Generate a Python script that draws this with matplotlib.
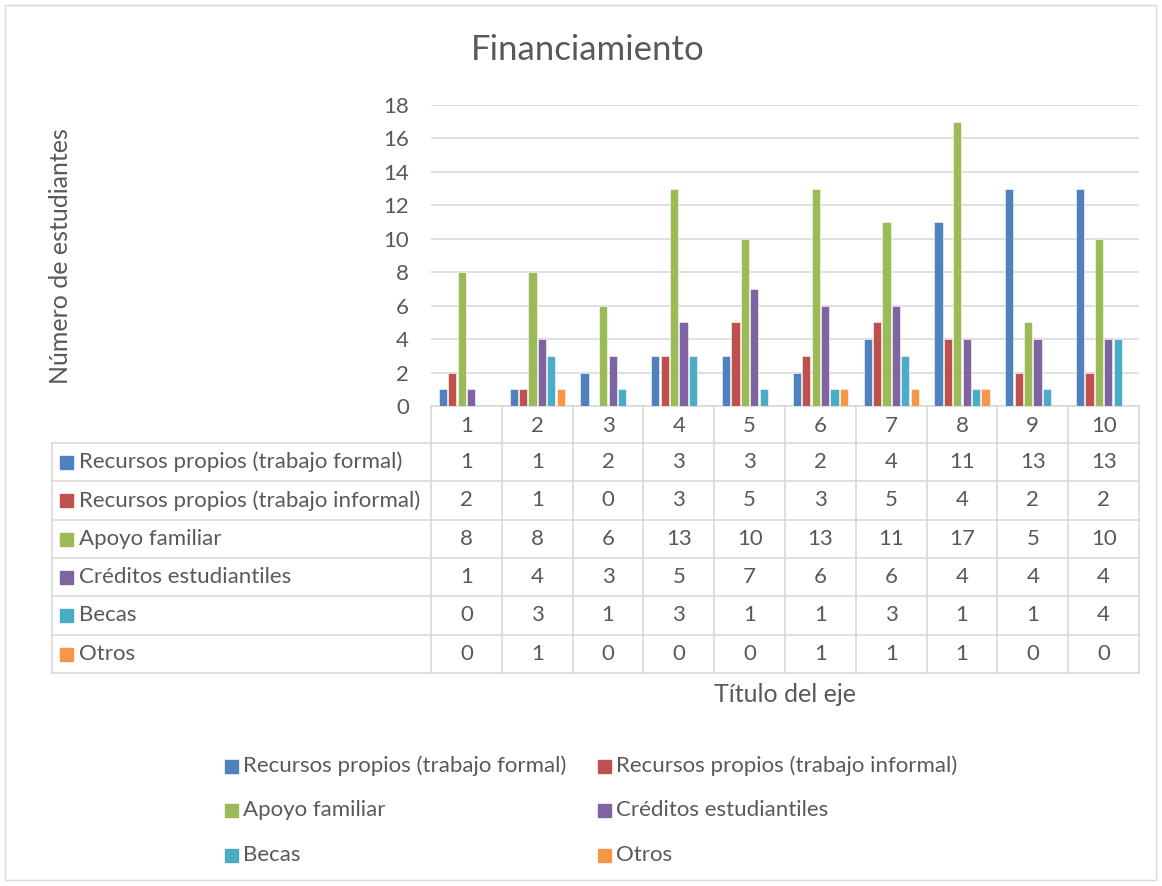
import matplotlib.pyplot as plt
import numpy as np
from matplotlib.patches import Rectangle

plt.rcParams['font.family'] = ['Lato', 'DejaVu Sans']

categories = ['1', '2', '3', '4', '5', '6', '7', '8', '9', '10']
series_names = ['Recursos propios (trabajo formal)',
                'Recursos propios (trabajo informal)',
                'Apoyo familiar',
                'Créditos estudiantiles',
                'Becas',
                'Otros']
formal = [1, 1, 2, 3, 3, 2, 4, 11, 13, 13]
informal = [2, 1, 0, 3, 5, 3, 5, 4, 2, 2]
familiar = [8, 8, 6, 13, 10, 13, 11, 17, 5, 10]
creditos = [1, 4, 3, 5, 7, 6, 6, 4, 4, 4]
becas = [0, 3, 1, 3, 1, 1, 3, 1, 1, 4]
otros = [0, 1, 0, 0, 0, 1, 1, 1, 0, 0]
series = [formal, informal, familiar, creditos, becas, otros]
colors = ['#4F81BD', '#C0504D', '#9BBB59', '#8064A2', '#4BACC6', '#F79646']
text_color = '#595959'
grid_color = '#D9D9D9'
fs = 16

W, H = 1162, 886
fig = plt.figure(figsize=(W / 100, H / 100), dpi=100)

# overlay in pixel coordinates for frame, table and legend
ov = fig.add_axes([0, 0, 1, 1])
ov.set_xlim(0, W)
ov.set_ylim(H, 0)
ov.axis('off')
ov.add_patch(Rectangle((5, 5), W - 11, H - 11, fill=False, ec=grid_color, lw=1))

# bar axes
x0, x1 = 431, 1139
ytop, ybot = 105, 406
ax = fig.add_axes([x0 / W, 1 - ybot / H, (x1 - x0) / W, (ybot - ytop) / H])
n = len(categories)
x = np.arange(n)
bw = 0.133
for i, (vals, c) in enumerate(zip(series, colors)):
    ax.bar(x + (i - 2.5) * bw, vals, width=bw * 0.86, color=c,
           edgecolor='white', linewidth=0.4, zorder=3)
ax.set_xlim(-0.5, n - 0.5)
ax.set_ylim(0, 18)
ax.set_yticks(range(0, 19, 2))
ax.tick_params(axis='y', length=0, pad=16, labelsize=fs, labelcolor=text_color)
ax.set_xticks([])
ax.grid(axis='y', color=grid_color, lw=1.2, zorder=0)
for s in ['top', 'right', 'left']:
    ax.spines[s].set_visible(False)
ax.spines['bottom'].set_color(grid_color)
ax.spines['bottom'].set_linewidth(1.2)

ov.text(60, 256, 'Número de estudiantes', rotation=90, ha='center', va='center',
        fontsize=18, color=text_color)
ov.text(588, 50, 'Financiamiento', ha='center', va='center',
        fontsize=25, color=text_color)

# data table
colw = (x1 - x0) / n
row_top = 443
rowh = 38.3
nrows = len(series)
tbl_bottom = row_top + nrows * rowh
lkw = dict(color=grid_color, lw=1.2)
for k in range(n + 1):
    xx = x0 + k * colw
    ov.plot([xx, xx], [ybot, tbl_bottom], **lkw)
ov.plot([52, 52], [row_top, tbl_bottom], **lkw)
for r in range(nrows + 1):
    yy = row_top + r * rowh
    ov.plot([52, x1], [yy, yy], **lkw)
for k, cat in enumerate(categories):
    ov.text(x0 + (k + 0.5) * colw, (ybot + row_top) / 2 + 1, cat, ha='center',
            va='center', fontsize=fs, color=text_color)
for r, (name, vals, c) in enumerate(zip(series_names, series, colors)):
    yc = row_top + (r + 0.5) * rowh
    ov.add_patch(Rectangle((60, yc - 6), 13, 13, color=c))
    ov.text(79, yc, name, ha='left', va='center', fontsize=fs, color=text_color)
    for k, v in enumerate(vals):
        ov.text(x0 + (k + 0.5) * colw, yc, str(v), ha='center', va='center',
                fontsize=fs, color=text_color)

ov.text(785, 694, 'Título del eje', ha='center', va='center', fontsize=18,
        color=text_color)

# legend
leg_x = [225, 598]
leg_y = [766, 810, 855]
for i, (name, c) in enumerate(zip(series_names, colors)):
    lx = leg_x[i % 2]
    ly = leg_y[i // 2]
    ov.add_patch(Rectangle((lx, ly - 6), 13, 13, color=c))
    ov.text(lx + 18, ly, name, ha='left', va='center', fontsize=fs,
            color=text_color)

fig.savefig('out.png', dpi=100)
